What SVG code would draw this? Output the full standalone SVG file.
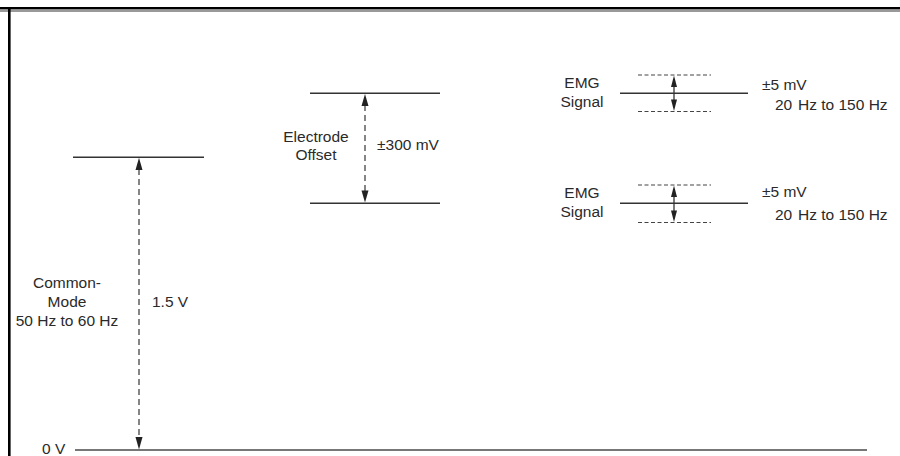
<svg xmlns="http://www.w3.org/2000/svg" width="900" height="456" viewBox="0 0 900 456">
<style>
text{font-family:"Liberation Sans",Arial,sans-serif;font-size:15.5px;fill:#2a2a2a}
.lvl{stroke:#333;stroke-width:1.4;fill:none}
.dsh{stroke:#444;stroke-width:1.3;stroke-dasharray:6 4;fill:none}
.ddl{stroke:#444;stroke-width:1.2;stroke-dasharray:4 2.5;fill:none}
.emg{stroke:#333;stroke-width:1.4;fill:none}
.sh{stroke:#333;stroke-width:1.3}
.hd{fill:#222}
</style>
<rect width="900" height="456" fill="#fff"/>
<g id="frame">
<rect x="0" y="7" width="900" height="2.5" fill="#000"/>
<rect x="0" y="9.5" width="900" height="2.5" fill="#999"/>
<rect x="8" y="7" width="2.6" height="449" fill="#000"/>
</g>
<g id="baseline">
<line x1="75" y1="450" x2="867" y2="450" stroke="#777" stroke-width="2"/>
<text x="42" y="453.5" font-size="14.5">0 V</text>
</g>
<g id="common-mode">
<line class="lvl" x1="73" y1="157.3" x2="204" y2="157.3"/>
<text x="67" y="288" text-anchor="middle">Common-</text>
<text x="67" y="307" text-anchor="middle">Mode</text>
<text x="67" y="326" text-anchor="middle">50 Hz to 60 Hz</text>
<text x="152" y="307">1.5 V</text>
</g>
<g id="electrode-offset">
<line class="lvl" x1="310" y1="93.3" x2="440" y2="93.3"/>
<line class="lvl" x1="310" y1="203.3" x2="440" y2="203.3"/>
<text x="316" y="142" text-anchor="middle">Electrode</text>
<text x="316" y="160" text-anchor="middle">Offset</text>
<text x="377" y="150">±300 mV</text>
</g>
<g id="emg-1">
<line class="emg" x1="620" y1="93.3" x2="748" y2="93.3"/>
<line class="ddl" x1="638" y1="75" x2="711" y2="75"/>
<line class="ddl" x1="638" y1="111.5" x2="711" y2="111.5"/>
<text x="582" y="88" text-anchor="middle">EMG</text>
<text x="582" y="107" text-anchor="middle">Signal</text>
<text x="762" y="90">±5 mV</text>
<text x="775" y="110" font-size="13">20</text>
<text x="798" y="110">Hz to 150 Hz</text>
</g>
<g id="emg-2">
<line class="emg" x1="620" y1="203.3" x2="748" y2="203.3"/>
<line class="ddl" x1="638" y1="185" x2="711" y2="185"/>
<line class="ddl" x1="638" y1="222.5" x2="711" y2="222.5"/>
<text x="582" y="198" text-anchor="middle">EMG</text>
<text x="582" y="217" text-anchor="middle">Signal</text>
<text x="762" y="197">±5 mV</text>
<text x="775" y="220" font-size="13">20</text>
<text x="798" y="220">Hz to 150 Hz</text>
</g>
<g id="connectors">
<line class="dsh" x1="139" y1="169" x2="139" y2="437"/>
<path class="hd" d="M139,157.8 L142.5,170 L135.5,170 Z"/>
<path class="hd" d="M139,449.5 L142.5,437 L135.5,437 Z"/>
<line class="dsh" x1="365" y1="105" x2="365" y2="191"/>
<path class="hd" d="M365,94 L368.5,106 L361.5,106 Z"/>
<path class="hd" d="M365,202.5 L368.5,190.5 L361.5,190.5 Z"/>
<line class="sh" x1="674" y1="86" x2="674" y2="93"/>
<path class="hd" d="M674,75.5 L677,87 L671,87 Z"/>
<line class="sh" x1="674" y1="93.5" x2="674" y2="100"/>
<path class="hd" d="M674,111 L677,99.5 L671,99.5 Z"/>
<line class="sh" x1="674" y1="196" x2="674" y2="203"/>
<path class="hd" d="M674,185.5 L677,197 L671,197 Z"/>
<line class="sh" x1="674" y1="203.5" x2="674" y2="211"/>
<path class="hd" d="M674,222 L677,210.5 L671,210.5 Z"/>
</g>
</svg>
